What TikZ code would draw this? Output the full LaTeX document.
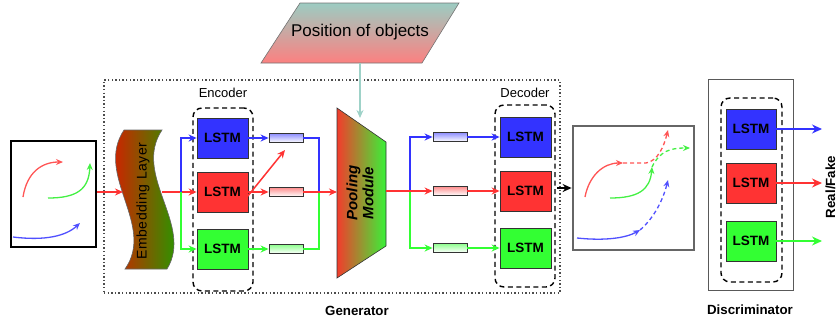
\documentclass[tikz,border=0pt]{standalone}
\usepackage{fontspec}
\setmainfont{Liberation Sans}
\usetikzlibrary{arrows.meta,calc}

\definecolor{cb}{HTML}{3333FF}
\definecolor{cr}{HTML}{FF3333}
\definecolor{cg}{HTML}{33FF33}
\definecolor{tb}{HTML}{5050FF}
\definecolor{tr}{HTML}{FF5555}
\definecolor{tg}{HTML}{44F044}
\definecolor{embred}{HTML}{FF0000}
\definecolor{embgreen}{HTML}{00B400}
\definecolor{poolred}{HTML}{F23C2C}
\definecolor{poolgreen}{HTML}{38F238}
\definecolor{postop}{HTML}{9CCCC2}
\definecolor{posbot}{HTML}{FC8080}
\definecolor{tealarr}{HTML}{9ED2C8}
\definecolor{edge}{HTML}{333333}

\begin{document}
\begin{tikzpicture}[x=1pt,y=-1pt,
  lstm/.style={draw=edge, line width=0.8pt, minimum width=51pt, minimum height=40pt,
    inner sep=0pt, font=\fontsize{13.5}{15}\bfseries\selectfont},
  vec/.style={draw=edge, line width=0.8pt, minimum width=34pt, minimum height=9pt, inner sep=0pt},
  arr/.style={line width=1.5pt, -{Stealth[length=8pt,width=7pt]}},
  thinarr/.style={line width=1.2pt, -{Stealth[length=10pt,width=9pt]}},
  link/.style={line width=1.5pt},
  traj/.style={line width=1.3pt, -{Stealth[length=7pt,width=6pt]}},
  trajd/.style={traj, dash pattern=on 4pt off 3pt},
  grp/.style={draw, dash pattern=on 5pt off 3.5pt, line width=1.4pt, rounded corners=9pt,
    inner sep=0pt},
  lbl/.style={font=\fontsize{13}{15}\selectfont},
  title/.style={font=\fontsize{13.3}{15}\bfseries\selectfont}
]
\useasboundingbox (0,0) rectangle (838,325);

% generator frame
\node[draw=black!70, dash pattern=on 1.4pt off 2.2pt, line width=1.3pt,
  minimum width=456pt, minimum height=213pt, inner sep=0pt] (gen) at (332,186.5) {};
\node[title] (gentxt) at (357,311) {Generator};

% input scene
\node[draw=black, line width=2.8pt, minimum width=85pt, minimum height=106pt, inner sep=0pt]
  (inp) at (53.5,194) {};
\draw[traj, tr] (23,197) .. controls (27,172) and (42,162) .. (63,162);
\draw[traj, tg] (48,198) .. controls (76,198) and (89,190) .. (90,163);
\draw[traj, tb] (13,237) .. controls (45,241) and (66,236) .. (80,223);

% embedding layer
\draw[draw=black!60, line width=0.6pt, left color=embred, right color=embgreen]
  (124,130) -- (162,130) .. controls (132,175) and (194,225) .. (167,269)
  -- (125,269) .. controls (156,225) and (94,175) .. (124,130) -- cycle;
\node[rotate=90, font=\fontsize{14}{15}\selectfont\addfontfeature{LetterSpace=4}]
  (emb) at (143,201) {Embedding Layer};
\coordinate (embL) at (123,192);
\coordinate (embR) at (162,192);
\draw[arr, cr] (inp.east |- embL) -- (embL);

% encoder
\node[grp, minimum width=60pt, minimum height=183pt] (enc) at (223,199.5) {};
\node[lbl] (enctxt) at (223,93) {Encoder};
\node[lstm, fill=cb] (e1) at (222.5,138) {LSTM};
\node[lstm, fill=cr] (e2) at (222.5,192) {LSTM};
\node[lstm, fill=cg] (e3) at (222.5,249) {LSTM};
\coordinate (esplit) at (181,192);
\draw[arr, cr] (embR) -- (e2.west);
\draw[arr, cb] (esplit) |- (e1.west);
\draw[arr, cg] (esplit) |- (e3.west);

\node[vec, top color=cb!55, bottom color=white] (ev1) at (286,138) {};
\node[vec, top color=cr!55, bottom color=white] (ev2) at (286,192) {};
\node[vec, top color=cg!55, bottom color=white] (ev3) at (286,249) {};
\draw[arr, cb] (e1.east) -- (ev1.west);
\draw[arr, cg] (e3.east) -- (ev3.west);
\draw[arr, cr] (e2.east) -- (ev2.west);
\coordinate (diagA) at ($(e2.center)+(20.5,10)$);
\coordinate (diagB) at (285,150);
\draw[arr, cr] (diagA) -- (diagB);

% pooling module
\draw[draw=edge, line width=0.6pt, left color=poolred, right color=poolgreen]
  (337,108) -- (386,142) -- (386,246) -- (337,278) -- cycle;
\node[rotate=90, align=center, font=\fontsize{15}{16}\bfseries\itshape\selectfont]
  (pool) at (360,193) {Pooling\\Module};
\coordinate (poolW) at (337,192);
\coordinate (poolE) at (386,191);
\coordinate (poolT) at (360,118);
\coordinate (pjoin) at (319,192);
\draw[link, cb] (ev1.east) -| (pjoin);
\draw[link, cg] (ev3.east) -| (pjoin);
\draw[arr, cr] (ev2.east) -- (poolW);

% position of objects
\draw[draw=black!55, line width=0.6pt, top color=postop, bottom color=posbot]
  (300,3) -- (459,3) -- (422,63) -- (261,63) -- cycle;
\node[font=\fontsize{17}{19}\selectfont] (pos) at (360,32) {Position of objects};
\coordinate (posB) at (360,63);
\draw[arr, tealarr] (posB) -- (poolT);

% decoder
\node[grp, minimum width=60pt, minimum height=182pt] (dec) at (525,196) {};
\node[lbl] (dectxt) at (525,93) {Decoder};
\node[vec, top color=cb!55, bottom color=white] (dv1) at (450,137) {};
\node[vec, top color=cr!55, bottom color=white] (dv2) at (450,191) {};
\node[vec, top color=cg!55, bottom color=white] (dv3) at (450,248) {};
\node[lstm, fill=cb] (d1) at (525.5,137) {LSTM};
\node[lstm, fill=cr] (d2) at (525.5,191) {LSTM};
\node[lstm, fill=cg] (d3) at (525.5,248) {LSTM};
\coordinate (psplit) at (410,191);
\draw[arr, cb] (psplit) |- (dv1.west);
\draw[arr, cg] (psplit) |- (dv3.west);
\draw[arr, cr] (poolE) -- (dv2.west);
\draw[arr, cb] (dv1.east) -- (d1.west);
\draw[arr, cr] (dv2.east) -- (d2.west);
\draw[arr, cg] (dv3.east) -- (d3.west);

% predicted scene
\node[draw=black!60, line width=2.8pt, minimum width=121pt, minimum height=124pt, inner sep=0pt]
  (outp) at (633.5,188) {};
\coordinate (genout) at (557,188);
\draw[line width=1.3pt, -{Stealth[length=9pt,width=8pt]}] (genout) -- (outp.west);
\draw[traj, tr] (585,197) .. controls (589,176) and (603,163) .. (623,163);
\draw[trajd, tr] (623,163) -- (646,163) .. controls (658,161) and (664,146) .. (668,130);
\draw[traj, tg] (610,198) .. controls (638,198) and (650,190) .. (652,167);
\draw[trajd, tg] (652,167) .. controls (660,151) and (670,148) .. (690,148);
\draw[traj, tb] (577,238) .. controls (605,241) and (626,238) .. (640,230);
\draw[trajd, tb] (640,230) .. controls (654,218) and (663,200) .. (668,180);

% discriminator
\node[draw=black!65, line width=0.8pt, minimum width=85pt, minimum height=211pt, inner sep=0pt]
  (disc) at (750.5,184.5) {};
\node[grp, minimum width=61pt, minimum height=184pt] (dgrp) at (751.5,190) {};
\node[lstm, fill=cb, minimum width=50pt] (s1) at (751,129) {LSTM};
\node[lstm, fill=cr, minimum width=50pt] (s2) at (751,183) {LSTM};
\node[lstm, fill=cg, minimum width=50pt] (s3) at (751,241) {LSTM};
\coordinate (rf1) at (822,129);
\coordinate (rf2) at (822,183);
\coordinate (rf3) at (822,241);
\draw[thinarr, cb] (s1.east) -- (rf1);
\draw[thinarr, cr] (s2.east) -- (rf2);
\draw[thinarr, cg] (s3.east) -- (rf3);
\node[title, rotate=90, inner sep=0pt] (rf) at (830.5,187) {Real/Fake};
\node[title] (disctxt) at (750,310) {Discriminator};
\end{tikzpicture}
\end{document}
